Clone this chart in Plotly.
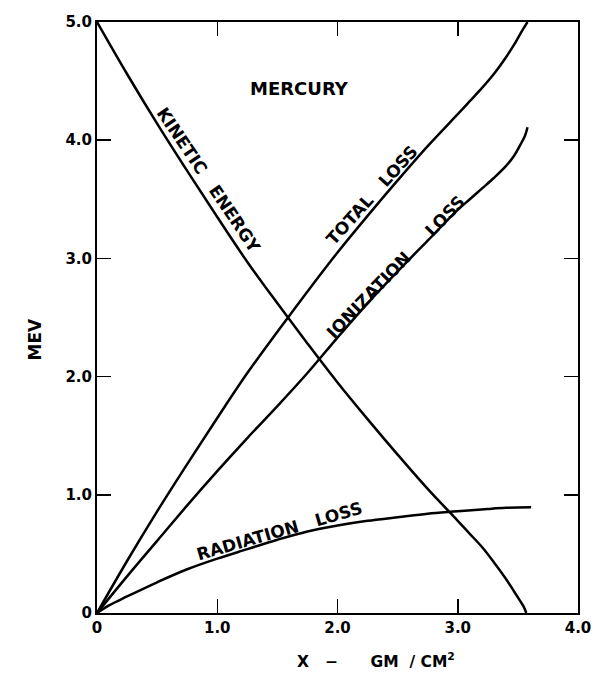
import plotly.graph_objects as go

# ---- data ----
x_total = [0, 0.25, 0.5, 0.75, 1.0, 1.25, 1.5, 1.75, 2.0, 2.25, 2.5, 2.75, 3.0, 3.1, 3.2, 3.3, 3.4, 3.47, 3.52, 3.55, 3.58]
total_loss = [0, 0.44, 0.86, 1.26, 1.65, 2.03, 2.38, 2.72, 3.05, 3.36, 3.66, 3.95, 4.22, 4.33, 4.44, 4.56, 4.70, 4.81, 4.90, 4.95, 5.0]

x_kin = [0, 0.25, 0.5, 0.75, 1.0, 1.25, 1.5, 1.75, 2.0, 2.25, 2.5, 2.75, 3.0, 3.1, 3.2, 3.3, 3.4, 3.47, 3.52, 3.55, 3.57]
kinetic = [5.0, 4.56, 4.14, 3.74, 3.35, 2.97, 2.62, 2.28, 1.95, 1.64, 1.34, 1.05, 0.78, 0.67, 0.56, 0.43, 0.29, 0.18, 0.10, 0.05, 0.0]

x_ion = [0, 0.25, 0.5, 0.75, 1.0, 1.25, 1.5, 1.75, 2.0, 2.25, 2.5, 2.75, 3.0, 3.1, 3.2, 3.3, 3.4, 3.47, 3.52, 3.56, 3.58]
ionization = [0, 0.31, 0.61, 0.91, 1.20, 1.48, 1.75, 2.03, 2.33, 2.62, 2.89, 3.15, 3.41, 3.50, 3.59, 3.68, 3.78, 3.87, 3.96, 4.04, 4.11]

x_rad = [0, 0.1, 0.25, 0.5, 0.75, 1.0, 1.25, 1.5, 1.75, 2.0, 2.25, 2.5, 2.75, 3.0, 3.25, 3.4, 3.61]
radiation = [0, 0.065, 0.14, 0.26, 0.37, 0.46, 0.54, 0.62, 0.69, 0.74, 0.78, 0.81, 0.84, 0.86, 0.88, 0.89, 0.895]

x_tickvals = [0, 1, 2, 3, 4]
x_ticktext = ["0", "1.0", "2.0", "3.0", "4.0"]
y_tickvals = [0, 1, 2, 3, 4, 5]
y_ticktext = ["0", "1.0", "2.0", "3.0", "4.0", "5.0"]

FONT = "DejaVu Sans"
NB = "\u00a0"

fig = go.Figure()
for xs, ys in [(x_total, total_loss), (x_kin, kinetic), (x_ion, ionization), (x_rad, radiation)]:
    fig.add_trace(go.Scatter(x=xs, y=ys, mode="lines",
                             line=dict(color="black", width=2.5, shape="spline", smoothing=1.0),
                             showlegend=False, hoverinfo="skip"))

axis_common = dict(showgrid=False, zeroline=False, showline=True, linecolor="black", linewidth=2,
                   mirror="ticks", ticks="inside", ticklen=14, tickwidth=1.5, tickcolor="black",
                   tickfont=dict(family=FONT, size=15, color="black", weight="bold"))

fig.update_xaxes(range=[0, 4], tickvals=x_tickvals, ticktext=x_ticktext, **axis_common)
fig.update_yaxes(range=[0, 5], tickvals=y_tickvals, ticktext=y_ticktext, **axis_common)

lab = dict(family=FONT, size=17, color="black", weight="bold")
ann = [
    dict(x=1.68, y=4.44, text="MERCURY", textangle=0, font=dict(family=FONT, size=18, color="black", weight="bold")),
    dict(x=0.926, y=3.66, text="KINETIC" + NB * 3 + "ENERGY", textangle=56, font=lab),
    dict(x=2.288, y=3.533, text="TOTAL" + NB * 3 + "LOSS", textangle=-48, font=lab),
    dict(x=2.485, y=2.925, text="IONIZATION" + NB * 5 + "LOSS", textangle=-46, font=lab),
    dict(x=1.52, y=0.69, text="RADIATION" + NB * 3 + "LOSS", textangle=-16, font=lab),
]
for a in ann:
    fig.add_annotation(xref="x", yref="y", showarrow=False, **a)

fig.add_annotation(xref="paper", yref="paper", x=-0.1535, y=0.463, text="MEV", textangle=-90,
                   showarrow=False, font=dict(family=FONT, size=17, color="black", weight="bold"))
fig.add_annotation(xref="paper", yref="paper", x=0.58, y=-0.102,
                   text="X" + NB * 3 + "\u2212" + NB * 6 + "GM" + NB * 2 + "/" + NB + "CM<sup>2</sup>",
                   showarrow=False, font=dict(family=FONT, size=15.5, color="black", weight="bold"))

fig.update_layout(width=603, height=691, paper_bgcolor="white", plot_bgcolor="white",
                  margin=dict(l=96.7, r=16.3, t=21.7, b=78.3), hovermode=False)

fig.write_html("out.html", config={"displayModeBar": False, "staticPlot": True},
               post_script="document.body.style.margin='0px';")
